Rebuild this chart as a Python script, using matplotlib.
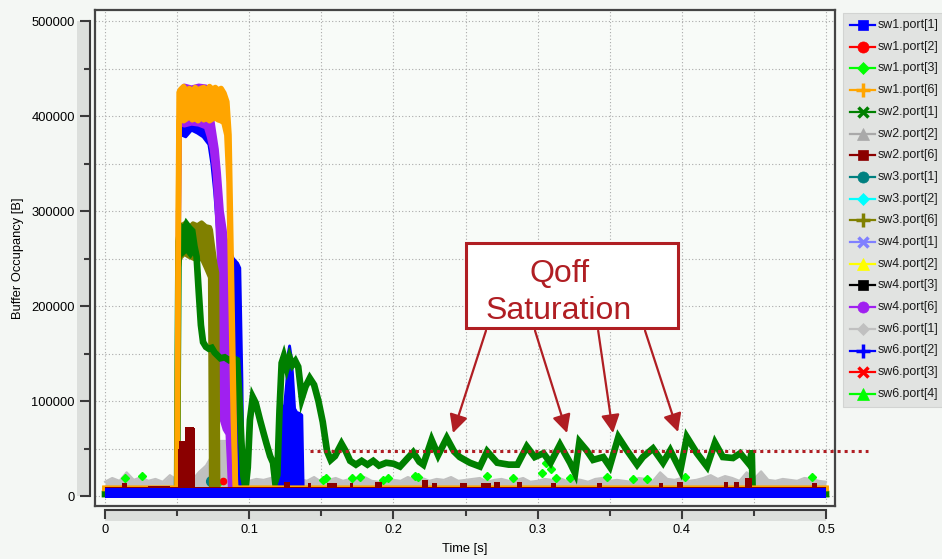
import numpy as np
import matplotlib
matplotlib.use("Agg")
import matplotlib.pyplot as plt
from matplotlib.lines import Line2D
from matplotlib.patches import Rectangle, FancyArrowPatch
from matplotlib.ticker import MultipleLocator, FuncFormatter

W, H, DPI = 942, 559, 100
FONT = "Liberation Sans"

# ---------------- data (time in s, occupancy in bytes) ----------------
# sw1.port[1] / sw6.port[2] common floor level
floor_t = [0.0, 0.5]
floor_v = [3000, 3000]

# sw2.port[1]
g_t = [0.000, 0.0500, 0.0505, 0.0510, 0.0525, 0.0545, 0.0565, 0.0585, 0.0605, 0.0620,
       0.0635, 0.0650, 0.0665, 0.0680, 0.0700, 0.0720, 0.0740, 0.0760, 0.0780, 0.0800,
       0.0830, 0.0860, 0.0890, 0.0915, 0.0930, 0.0945, 0.0960, 0.0975, 0.0990, 0.1005,
       0.1025, 0.1045, 0.1075, 0.1100, 0.1120, 0.1145, 0.1165, 0.1180, 0.1195, 0.1210,
       0.1225, 0.1240, 0.1260, 0.1280, 0.1300, 0.1320, 0.1340, 0.1365, 0.1390, 0.1420,
       0.1450, 0.1480, 0.1510, 0.1540, 0.1565, 0.1595, 0.1640, 0.1670, 0.1700, 0.1740,
       0.1780, 0.1820, 0.1860, 0.1900, 0.1950, 0.2000, 0.2046, 0.2100, 0.2137, 0.2180,
       0.2207, 0.2265, 0.2310, 0.2370, 0.2420, 0.2460, 0.2530, 0.2600, 0.2650, 0.2720,
       0.2800, 0.2860, 0.2925, 0.2980, 0.3040, 0.3090, 0.3155, 0.3225, 0.3260, 0.3290,
       0.3340, 0.3385, 0.3455, 0.3500, 0.3560, 0.3620, 0.3690, 0.3730, 0.3800, 0.3870,
       0.3920, 0.3990, 0.4035, 0.4105, 0.4175, 0.4230, 0.4285, 0.4355, 0.4405, 0.4470,
       0.4485, 0.4492, 0.5000]
g_v = [2000, 2000, 150000, 268000, 283000, 279000, 286000, 282000, 279000, 263000,
       252000, 215000, 180000, 162000, 157000, 155000, 156000, 151000, 148000, 145000,
       146000, 143000, 145000, 143000, 110000, 60000, 20000, 8000, 30000, 80000,
       104000, 98000, 80000, 66000, 55000, 42000, 35000, 15000, 22000, 90000,
       140000, 147000, 135000, 146000, 138000, 142000, 136000, 103000, 115000, 124000,
       117000, 100000, 78000, 47000, 38000, 42000, 55000, 47000, 37000, 33000,
       37000, 33000, 37000, 32000, 35000, 34000, 31000, 40000, 46000, 36000,
       33000, 59000, 43000, 61000, 47000, 41000, 35000, 31000, 47000, 35000,
       33000, 33000, 52000, 41000, 45000, 35000, 54000, 35000, 24000, 57000,
       48000, 38000, 41000, 31000, 62000, 48000, 33000, 41000, 50000, 35000,
       48000, 27000, 62000, 45000, 31000, 56000, 41000, 40000, 45000, 33000,
       48000, 2000, 2000]
# sw2.port[1] spread during the first burst
gs_t  = [0.0512, 0.0530, 0.0560, 0.0590, 0.0612]
gs_hi = [282000, 284000, 286000, 283000, 270000]
gs_lo = [255000, 252000, 256000, 250000, 255000]

# sw1.port[6] (upper / lower envelope)
o_t  = [0.000, 0.0500, 0.0508, 0.0514, 0.0525, 0.0545, 0.0565, 0.0585, 0.0605, 0.0625,
        0.0645, 0.0665, 0.0685, 0.0705, 0.0725, 0.0745, 0.0765, 0.0785, 0.0805, 0.0825,
        0.0845, 0.0860, 0.0875, 0.0890, 0.0905, 0.5000]
o_hi = [8000, 8000, 300000, 425000, 428000, 431000, 426000, 429000, 425000, 430000,
        427000, 429000, 430000, 426000, 431000, 428000, 430000, 427000, 429000, 424000,
        415000, 380000, 250000, 120000, 8000, 8000]
o_lo = [8000, 8000, 250000, 395000, 398000, 395000, 397000, 400000, 396000, 398000,
        395000, 399000, 396000, 398000, 395000, 397000, 398000, 396000, 395000, 393000,
        380000, 330000, 200000, 80000, 8000, 8000]

# sw4.port[6]
p_t  = [0.0500, 0.0506, 0.0512, 0.0520, 0.0550, 0.0600, 0.0650, 0.0700, 0.0720, 0.0740,
        0.0760, 0.0775, 0.0790, 0.0800, 0.0810, 0.0830, 0.0850, 0.0858, 0.0866, 0.0874]
p_hi = [4000, 300000, 330000, 425000, 432000, 430000, 432000, 431000, 420000, 400000,
        380000, 365000, 340000, 320000, 300000, 280000, 250000, 200000, 60000, 4000]
p_lo = [4000, 250000, 270000, 392000, 390000, 392000, 391000, 388000, 378000, 365000,
        340000, 300000, 250000, 150000, 80000, 70000, 65000, 40000, 10000, 4000]

# sw6.port[2]: first burst, then second burst
b_t  = [0.0500, 0.0504, 0.0510, 0.0530, 0.0560, 0.0600, 0.0640, 0.0680, 0.0720, 0.0740,
        0.0760, 0.0780, 0.0800, 0.0830, 0.0860, 0.0890, 0.0920, 0.0935, 0.0950, 0.0958]
b_hi = [4000, 150000, 385000, 392000, 390000, 396000, 393000, 390000, 385000, 372000,
        352000, 318000, 295000, 275000, 260000, 250000, 245000, 240000, 120000, 4000]
b_lo = [4000, 100000, 375000, 380000, 378000, 385000, 382000, 378000, 370000, 350000,
        320000, 280000, 240000, 180000, 100000, 40000, 20000, 10000, 4000, 4000]
b2_t = [0.1200, 0.1210, 0.1225, 0.1245, 0.1260, 0.1270, 0.1280, 0.1290, 0.1300, 0.1315,
        0.1330, 0.1350, 0.1365, 0.1375]
b2_v = [4000, 92000, 94000, 95000, 120000, 150000, 158000, 148000, 130000, 92000,
        88000, 87000, 85000, 4000]

# sw3.port[6]
ol_t  = [0.0500, 0.0506, 0.0512, 0.0520, 0.0550, 0.0580, 0.0610, 0.0640, 0.0670, 0.0700,
         0.0728, 0.0735, 0.0750, 0.0765, 0.0778, 0.0786]
ol_hi = [4000, 150000, 275000, 283000, 287000, 282000, 287000, 285000, 288000, 284000,
         283000, 280000, 262000, 245000, 235000, 4000]
ol_lo = [4000, 100000, 240000, 250000, 255000, 252000, 250000, 248000, 250000, 240000,
         230000, 8000, 6000, 6000, 5000, 4000]

# sw2.port[6] (step levels)
dr_t = [0.000, 0.012, 0.015, 0.030, 0.045, 0.0505, 0.0513, 0.0555, 0.0615, 0.0625,
        0.124, 0.128, 0.141, 0.143, 0.154, 0.161, 0.170, 0.172, 0.187, 0.192,
        0.220, 0.224, 0.227, 0.230, 0.246, 0.251, 0.261, 0.268, 0.270, 0.274,
        0.286, 0.289, 0.309, 0.313, 0.341, 0.345, 0.3845, 0.387, 0.397, 0.401,
        0.429, 0.432, 0.436, 0.440, 0.444, 0.449, 0.490, 0.494, 0.500]
dr_v = [10000, 14000, 10000, 10500, 10000, 50000, 58000, 73000, 72000, 10000,
        15000, 10000, 14000, 10000, 14000, 10000, 14000, 10000, 15000, 10000,
        17000, 10000, 14000, 10000, 14000, 10000, 14000, 10000, 15000, 10000,
        15000, 10000, 14000, 10000, 14000, 10000, 14000, 10000, 15000, 10000,
        15000, 10000, 15000, 10000, 19000, 10000, 14000, 10000, 10000]

# sw6.port[1] (sampled every 5 ms)
gr_t = np.linspace(0.0, 0.5, 101)
gr_v = [15000, 19000, 16000, 25000, 17000, 20000, 16000, 18000, 15000, 22000,
        17000, 13000, 16000, 25000, 32000, 45000, 58000, 58000, 19000, 18000,
        16000, 18000, 17000, 19000, 23000, 24000, 21000, 18000, 16000, 20000,
        15000, 17000, 19000, 16000, 18000, 17000, 20000, 16000, 15000, 19000,
        17000, 16000, 20000, 17000, 19000, 16000, 18000, 17000, 20000, 16000,
        17000, 18000, 19000, 15000, 17000, 18000, 16000, 17000, 19000, 15000,
        16000, 18000, 17000, 19000, 16000, 18000, 17000, 15000, 18000, 19000,
        16000, 17000, 16000, 15000, 19000, 18000, 16000, 25000, 18000, 17000,
        19000, 16000, 17000, 19000, 22000, 18000, 21000, 19000, 16000, 25000,
        18000, 26000, 17000, 16000, 18000, 17000, 16000, 19000, 18000, 16000,
        15000]

# sw6.port[4] samples above the floor
lime_t = [0.014, 0.026, 0.078, 0.151, 0.153, 0.171, 0.177, 0.193, 0.196, 0.215,
          0.217, 0.265, 0.283, 0.303, 0.306, 0.309, 0.313, 0.3225, 0.348, 0.366,
          0.376, 0.402, 0.490]
lime_v = [19000, 21000, 13000, 17000, 19000, 19000, 20000, 17000, 19000, 21000,
          20000, 21000, 19000, 24000, 35000, 28000, 19000, 19000, 20000, 18000,
          18000, 20000, 20000]

# sw1.port[2] / sw3.port[1] samples
red_t = [0.037, 0.0815, 0.274, 0.288, 0.321, 0.345, 0.394, 0.456]
red_v = [5000, 16000, 5000, 4500, 5000, 4500, 5000, 4500]
teal_t = [0.0735]
teal_v = [16000]

threshold = 47000

legend_names = ["sw1.port[1]", "sw1.port[2]", "sw1.port[3]", "sw1.port[6]",
                "sw2.port[1]", "sw2.port[2]", "sw2.port[6]", "sw3.port[1]",
                "sw3.port[2]", "sw3.port[6]", "sw4.port[1]", "sw4.port[2]",
                "sw4.port[3]", "sw4.port[6]", "sw6.port[1]", "sw6.port[2]",
                "sw6.port[3]", "sw6.port[4]"]

# ---------------- styles ----------------
C = {
    "sw1.port[1]": ("#0000ff", "s"), "sw1.port[2]": ("#ff0000", "o"),
    "sw1.port[3]": ("#00ff00", "D"), "sw1.port[6]": ("#ffa500", "+"),
    "sw2.port[1]": ("#008000", "x"), "sw2.port[2]": ("#a9a9a9", "^"),
    "sw2.port[6]": ("#8b0000", "s"), "sw3.port[1]": ("#008080", "o"),
    "sw3.port[2]": ("#00ffff", "D"), "sw3.port[6]": ("#808000", "+"),
    "sw4.port[1]": ("#8080ff", "x"), "sw4.port[2]": ("#ffff00", "^"),
    "sw4.port[3]": ("#000000", "s"), "sw4.port[6]": ("#a020f0", "o"),
    "sw6.port[1]": ("#c0c0c0", "D"), "sw6.port[2]": ("#0000ff", "+"),
    "sw6.port[3]": ("#ff0000", "x"), "sw6.port[4]": ("#00ff00", "^"),
}
ANN = "#b01e23"
FIG_BG = "#f4f7f4"
CANVAS_BG = "#f8fbf8"
BAND = "#dcdfdc"
AXIS_DARK = "#3a3a3a"

plt.rcParams["font.family"] = [FONT, "DejaVu Sans"]

fig = plt.figure(figsize=(W / DPI, H / DPI), dpi=DPI, facecolor=FIG_BG)


def px_box(x0, y0, x1, y1):
    return [x0 / W, 1 - y1 / H, (x1 - x0) / W, (y1 - y0) / H]


XLIM = (-0.00694, 0.50624)
YLIM = (-10526, 511579)

ax = fig.add_axes(px_box(95, 10, 835, 506))
ax.set_facecolor(CANVAS_BG)
ax.set_xlim(*XLIM)
ax.set_ylim(*YLIM)
ax.set_xticks(np.arange(0, 0.501, 0.05))
ax.set_yticks(np.arange(0, 500001, 50000))
ax.tick_params(length=0, labelbottom=False, labelleft=False)
ax.grid(True, color="#aaaaaa", lw=0.8, ls=(0, (1, 2)), zorder=0.5)
ax.set_axisbelow(True)
for s in ax.spines.values():
    s.set_color("#454545")
    s.set_linewidth(1.6)

# grey background activity
ax.fill_between(gr_t, 0, gr_v, color=C["sw6.port[1]"][0], lw=0, zorder=1)
ax.plot(gr_t, gr_v, color=C["sw6.port[1]"][0], lw=1.5, zorder=1)

# lime / red / teal samples
ax.plot(lime_t, lime_v, ls="none", marker="D", ms=4.5, color=C["sw6.port[4]"][0], zorder=1.5)
ax.plot(red_t, red_v, ls="none", marker="o", ms=4.5, color=C["sw1.port[2]"][0], zorder=1.6)
ax.plot(teal_t, teal_v, ls="none", marker="o", ms=7, color=C["sw3.port[1]"][0], zorder=1.6)


def band(t, lo, hi, color, z, edge=2.0):
    ax.fill_between(t, lo, hi, color=color, lw=0, zorder=z)
    ax.plot(t, hi, color=color, lw=edge, zorder=z)
    ax.plot(t, lo, color=color, lw=edge, zorder=z)


band(b_t, b_lo, b_hi, C["sw6.port[2]"][0], 2.0)
ax.fill_between(b2_t, 0, b2_v, color=C["sw6.port[2]"][0], lw=0, zorder=2.0)
ax.plot(b2_t, b2_v, color=C["sw6.port[2]"][0], lw=2.0, zorder=2.0)
band(p_t, p_lo, p_hi, C["sw4.port[6]"][0], 2.4, edge=3.0)
band(ol_t, ol_lo, ol_hi, C["sw3.port[6]"][0], 2.6, edge=3.0)

# sw2.port[1]
ax.fill_between(gs_t, gs_lo, gs_hi, color=C["sw2.port[1]"][0], lw=0, zorder=3.2)
ax.plot(g_t, g_v, color=C["sw2.port[1]"][0], lw=4.8, solid_joinstyle="miter", zorder=3.2)

band(o_t, o_lo, o_hi, C["sw1.port[6]"][0], 3.4, edge=4.0)

# sw2.port[6]
ax.fill_between(dr_t, 0, dr_v, step="post", color=C["sw2.port[6]"][0], lw=0, zorder=3.6)

# floor level
ax.plot(floor_t, floor_v, color=C["sw1.port[1]"][0], lw=7.2, solid_capstyle="butt", zorder=5)

# threshold line
ax.plot([0.1422, 0.529], [threshold, threshold], color=ANN, lw=2.2, ls=(0, (1, 1.3)),
        clip_on=False, zorder=6)

# annotation box
bx0, bx1, by0, by1 = 0.2503, 0.3974, 176800, 266300
ax.add_patch(Rectangle((bx0, by0), bx1 - bx0, by1 - by0, facecolor="white",
                       edgecolor=ANN, lw=2.2, zorder=7))
ax.text(0.3155, 225300, "Qoff", color=ANN, fontsize=23, ha="center", va="baseline", zorder=8)
ax.text(0.3148, 186300, "Saturation", color=ANN, fontsize=23, ha="center", va="baseline", zorder=8)

arrow_tails = [(0.2642, 174000), (0.2982, 174000), (0.3420, 174000), (0.3745, 174000)]
arrow_tips = [(0.2413, 66300), (0.3204, 66300), (0.3523, 66300), (0.3974, 67400)]
for tail, tip in zip(arrow_tails, arrow_tips):
    ax.add_patch(FancyArrowPatch(tail, tip, arrowstyle="-|>,head_length=0.55,head_width=0.28",
                                 mutation_scale=20, color=ANN, lw=1.6, shrinkA=0, shrinkB=0,
                                 zorder=8))

# ---------------- scales ----------------
TICK_FS = 9.3
sy = fig.add_axes(px_box(77, 10, 90, 506))
sy.set_ylim(*YLIM)
sy.set_xlim(0, 1)
sy.patch.set_alpha(0)
sy.axhspan(0, 500000, color=BAND, lw=0)
for k, s in sy.spines.items():
    s.set_visible(k == "right")
sy.spines["right"].set_bounds(0, 500000)
sy.spines["right"].set_color(AXIS_DARK)
sy.spines["right"].set_linewidth(1.5)
sy.yaxis.set_major_locator(MultipleLocator(100000))
sy.yaxis.set_minor_locator(MultipleLocator(50000))
sy.yaxis.set_major_formatter(FuncFormatter(lambda v, _: f"{v:.0f}"))
sy.tick_params(axis="y", which="both", direction="in", left=False, right=True,
               labelleft=True, labelright=False, color=AXIS_DARK, width=1.5,
               labelsize=TICK_FS, pad=1.5)
sy.tick_params(axis="y", which="major", length=7.5)
sy.tick_params(axis="y", which="minor", length=4.5)
sy.set_xticks([])

sx = fig.add_axes(px_box(95, 510, 835, 521))
sx.set_xlim(*XLIM)
sx.set_ylim(0, 1)
sx.patch.set_alpha(0)
sx.axvspan(0, 0.5, color=BAND, lw=0)
for k, s in sx.spines.items():
    s.set_visible(k == "top")
sx.spines["top"].set_bounds(0, 0.5)
sx.spines["top"].set_color(AXIS_DARK)
sx.spines["top"].set_linewidth(1.5)
sx.xaxis.set_major_locator(MultipleLocator(0.1))
sx.xaxis.set_minor_locator(MultipleLocator(0.05))
sx.xaxis.set_major_formatter(FuncFormatter(lambda v, _: f"{v:g}"))
sx.tick_params(axis="x", which="both", direction="in", bottom=False, top=True,
               labelbottom=True, labeltop=False, color=AXIS_DARK, width=1.5,
               labelsize=TICK_FS, pad=2)
sx.tick_params(axis="x", which="major", length=6.5)
sx.tick_params(axis="x", which="minor", length=4.3)
sx.set_yticks([])

fig.text(18 / W, 1 - 258 / H, "Buffer Occupancy [B]", rotation=90, ha="center",
         va="center", fontsize=TICK_FS)
fig.text(465 / W, 1 - 549 / H, "Time [s]", ha="center", va="center", fontsize=TICK_FS)

# ---------------- legend ----------------
fig.add_artist(Rectangle((843 / W, 1 - 407 / H), 110 / W, 394 / H, transform=fig.transFigure,
                         facecolor="#e1e3e1", edgecolor="#d2d4d2", lw=0.8))
for i, name in enumerate(legend_names):
    y = 1 - (25 + i * 21.7) / H
    col, mk = C[name]
    fig.add_artist(Line2D([850 / W, 875 / W], [y, y], transform=fig.transFigure,
                          color=col, lw=1.6))
    big = mk in "+x"
    fig.add_artist(Line2D([862.5 / W], [y], transform=fig.transFigure, color=col,
                          marker=mk, ls="none",
                          ms={"s": 7.5, "o": 8, "D": 6, "+": 10, "x": 7, "^": 8}[mk],
                          mew=2.5 if big else 0.5))
    fig.text(877.5 / W, y, name, ha="left", va="center", fontsize=8.9, color="#1a1a1a")

fig.savefig("out.png", dpi=DPI, facecolor=FIG_BG)
